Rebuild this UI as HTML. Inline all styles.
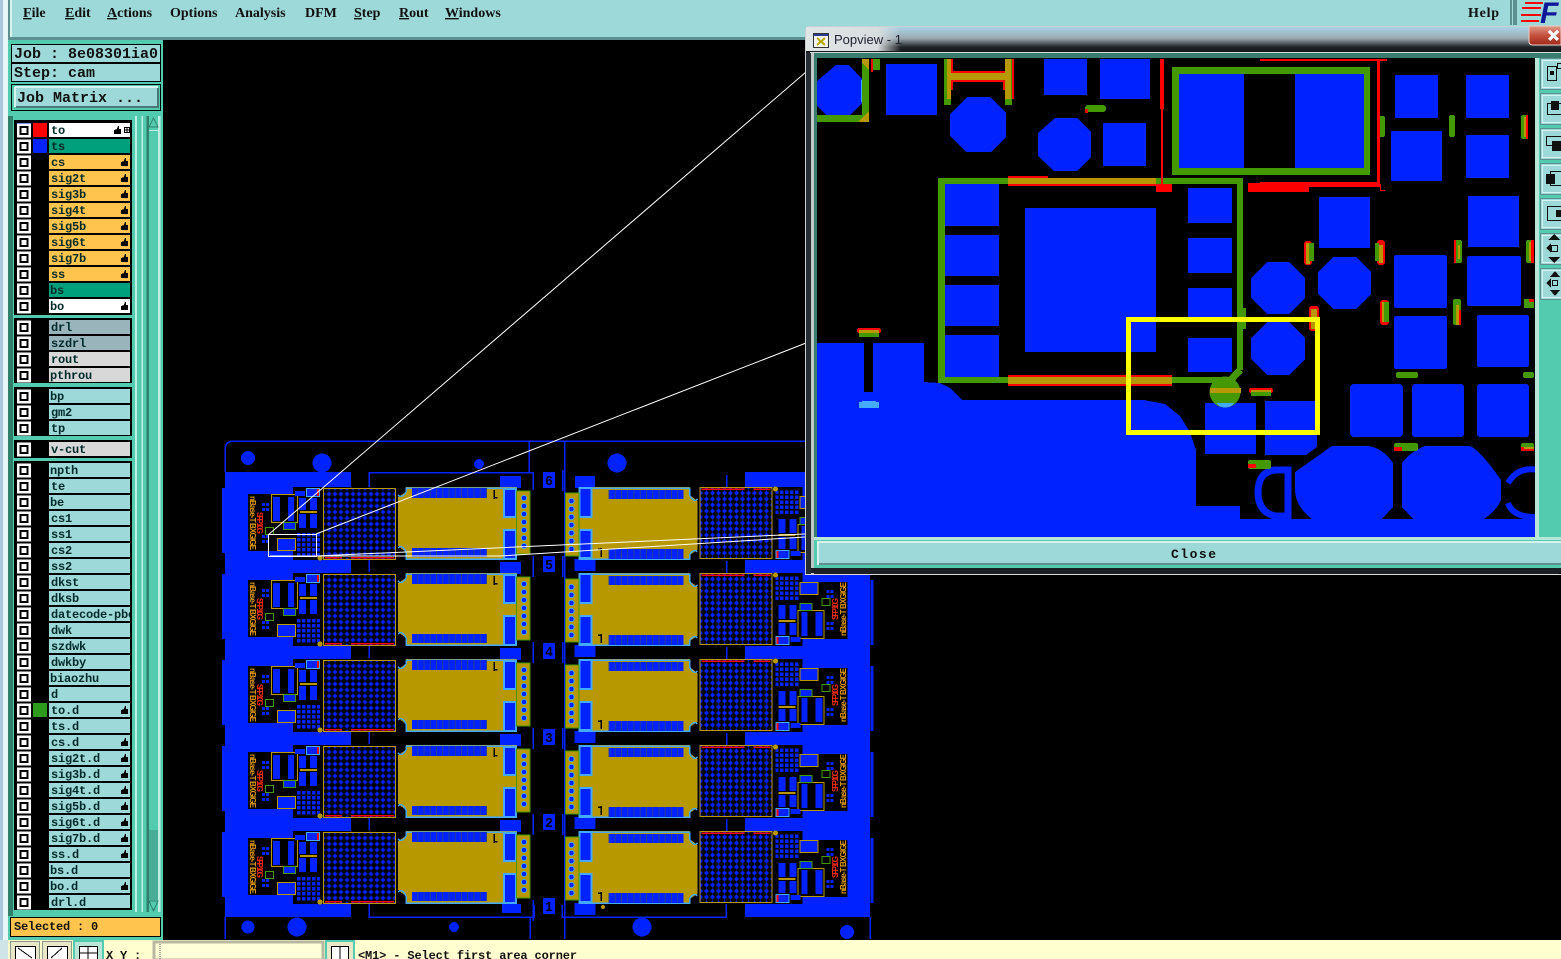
<!DOCTYPE html>
<html><head><meta charset="utf-8"><title>Popview</title>
<style>html,body{margin:0;padding:0;background:#000;overflow:hidden}svg{display:block}
.m{font:bold 14px "Liberation Serif",serif;fill:#111}
.l{font:bold 12px "Liberation Mono",monospace;fill:#002a2a;letter-spacing:-.2px}
.t{font:bold 15px "Liberation Mono",monospace;fill:#111}
</style></head><body>
<svg xmlns="http://www.w3.org/2000/svg" width="1561" height="959" viewBox="0 0 1561 959" shape-rendering="crispEdges">
<defs>
<pattern id="gp" x="326" y="491" width="6" height="6" patternUnits="userSpaceOnUse"><rect width="6" height="6" fill="#000"/><rect x="1.5" y="1.5" width="3" height="3" fill="#0022ff"/><rect x="2.5" y="0.5" width="1" height="5" fill="#0022ff"/><rect x="0.5" y="2.5" width="5" height="1" fill="#0022ff"/></pattern>
<pattern id="sq" x="297" y="538" width="5" height="5" patternUnits="userSpaceOnUse"><rect width="5" height="5" fill="#000"/><rect width="3.5" height="3.5" fill="#0022ff"/></pattern>
<pattern id="cp" x="412" y="0" width="6.25" height="10" patternUnits="userSpaceOnUse"><rect width="6.25" height="10" fill="#0022ff"/><rect x="5.2" width="1" height="10" fill="#27408f"/></pattern>
<g id="u">
<rect x="222" y="488" width="3" height="65" fill="#0022ff"/>
<rect x="248" y="494" width="45" height="57" fill="#000"/>
<rect x="293" y="487" width="105" height="73" fill="#000"/>
<rect x="500" y="476" width="21" height="12" fill="#0022ff"/>
<path d="M369 559V572M533 556V577" stroke="#0022ff" stroke-width="1.5" fill="none"/>
<rect x="323.5" y="488.5" width="72" height="71" fill="url(#gp)" stroke="#b89800"/>
<rect x="325" y="557" width="17" height="1.5" fill="#f00"/><rect x="351" y="557" width="43" height="1.5" fill="#f00"/>
<rect x="271.5" y="494.5" width="26" height="28" fill="#000" stroke="#b89800"/>
<rect x="273" y="497" width="7" height="24" fill="#0022ff"/><rect x="288" y="497" width="6" height="24" fill="#0022ff"/>
<rect x="299" y="498" width="7" height="12" fill="#0022ff"/><rect x="310" y="498" width="7" height="12" fill="#0022ff"/>
<rect x="300" y="511" width="17" height="2" fill="#b89800"/>
<rect x="299" y="514" width="7" height="14" fill="#0022ff"/><rect x="310" y="514" width="7" height="14" fill="#0022ff"/>
<rect x="306.5" y="488.5" width="13" height="8" fill="#0022ff" stroke="#44aaff"/><rect x="317" y="489" width="2" height="7" fill="#f00"/>
<rect x="295" y="491" width="10" height="5" fill="#0022ff"/>
<rect x="283.5" y="522.5" width="12" height="7" fill="#0022ff" stroke="#449900"/>
<rect x="265.5" y="527.5" width="8" height="7" fill="#000" stroke="#449900"/>
<rect x="262" y="503" width="3" height="3" fill="#0022ff"/><rect x="266" y="503" width="3" height="3" fill="#0022ff"/><rect x="262" y="508" width="3" height="3" fill="#0022ff"/><rect x="266" y="508" width="3" height="3" fill="#0022ff"/>
<rect x="262" y="535" width="3" height="3" fill="#0022ff"/><rect x="266" y="535" width="3" height="3" fill="#0022ff"/><rect x="262" y="540" width="3" height="3" fill="#0022ff"/><rect x="266" y="540" width="3" height="3" fill="#0022ff"/>
<rect x="277.5" y="538.5" width="18" height="12" fill="#0022ff" stroke="#b89800"/>
<rect x="297" y="533" width="23" height="25" fill="url(#sq)"/>
<circle cx="320" cy="558" r="2.5" fill="#b89800"/>
<path d="M406 487H517V560H406V552L398 546V497L406 492Z" fill="#b89800"/>
<path d="M398 495Q402 499 406 492V488H517M398 548Q402 544 406 552V559H517" stroke="#44aaff" stroke-width="1.5" fill="none"/>
<rect x="412" y="488" width="75" height="10" fill="url(#cp)"/>
<rect x="412" y="548" width="75" height="9" fill="url(#cp)"/>
<rect x="493.5" y="490" width="1.5" height="9" fill="#000"/><rect x="495" y="497" width="2.5" height="1.5" fill="#000"/>
<rect x="503" y="488" width="14" height="30" fill="#44aaff"/><rect x="505" y="490" width="10" height="26" fill="#0022ff"/>
<rect x="503" y="529" width="14" height="31" fill="#44aaff"/><rect x="505" y="531" width="10" height="27" fill="#0022ff"/>
<rect x="516.5" y="491" width="13.5" height="63" fill="#b89800" stroke="#449900"/>
<g fill="#0022ff" stroke="#44aaff" stroke-width=".7"><circle cx="524" cy="498" r="2.6"/><circle cx="524" cy="506" r="2.6"/><circle cx="524" cy="514" r="2.6"/><circle cx="524" cy="522" r="2.6"/><circle cx="524" cy="530" r="2.6"/><circle cx="524" cy="538" r="2.6"/><circle cx="524" cy="546" r="2.6"/></g>
</g>
<g id="cb"><rect x="17" y="-6.5" width="14" height="14" fill="#fff"/><rect x="19.5" y="-4" width="9" height="9" fill="#000"/><rect x="21.5" y="-2" width="5" height="5" fill="#fff"/></g>
<path id="h" d="M121 4V0L124 -1L125 -4L126 -4V-1L128 -1V4Z" fill="#000"/>
<clipPath id="cc"><rect x="817" y="58" width="718" height="479"/></clipPath>
<clipPath id="lc"><rect x="49" y="100" width="81" height="830"/></clipPath>
<linearGradient id="tb" x1="0" y1="0" x2="0" y2="1"><stop offset="0" stop-color="#a9d4e6"/><stop offset=".45" stop-color="#9aa9b0"/><stop offset=".8" stop-color="#202428"/><stop offset="1" stop-color="#14181a"/></linearGradient>
<linearGradient id="tl" x1="0" y1="0" x2="1" y2="0"><stop offset="0" stop-color="#e0e6e6"/><stop offset=".75" stop-color="#d8dee0"/><stop offset="1" stop-color="#d8dee0" stop-opacity="0"/></linearGradient>
<linearGradient id="cl" x1="0" y1="0" x2="0" y2="1"><stop offset="0" stop-color="#e09a8c"/><stop offset=".5" stop-color="#c4503c"/><stop offset="1" stop-color="#a0281c"/></linearGradient>
</defs>
<rect width="1561" height="959" fill="#000"/>

<!-- PCB panel -->
<rect x="225" y="472" width="126" height="445" fill="#0022ff"/>
<rect x="745" y="472" width="125" height="445" fill="#0022ff"/>
<rect x="575" y="476" width="20" height="12" fill="#0022ff"/>
<rect x="502" y="904" width="19" height="9" fill="#0022ff"/>
<rect x="575" y="904" width="20" height="9" fill="#0022ff"/>
<g fill="none" stroke="#0022ff" stroke-width="1.5">
<path d="M225 472V450Q225 441 234 441H806"/><path d="M564.5 441V939M529 441V472"/>
<path d="M369 487V472.5H533V490"/><path d="M369 903V917H534V905"/><path d="M726 903V917H562V905"/>
<path d="M225 917V939M530 917V939M870 917V939"/>
</g>
<g fill="#0022ff">
<circle cx="248" cy="458" r="7"/><circle cx="322" cy="463" r="9.5"/><circle cx="479" cy="464" r="5"/><circle cx="617" cy="463" r="9.5"/>
<circle cx="248" cy="927" r="6.5"/><circle cx="297" cy="927" r="9.5"/><circle cx="454" cy="927" r="5"/><circle cx="642" cy="927" r="9.5"/><circle cx="847" cy="932" r="7"/>
</g>
<use href="#u"/><use href="#u" y="86"/><use href="#u" y="172"/><use href="#u" y="258"/><use href="#u" y="344"/>
<g transform="translate(1095.5 1047) scale(-1 -1)"><use href="#u"/></g>
<g transform="translate(1095.5 1133) scale(-1 -1)"><use href="#u"/></g>
<g transform="translate(1095.5 1219) scale(-1 -1)"><use href="#u"/></g>
<g transform="translate(1095.5 1305) scale(-1 -1)"><use href="#u"/></g>
<g transform="translate(1095.5 1391) scale(-1 -1)"><use href="#u"/></g>
<circle cx="603" cy="907" r="2" fill="#b89800"/>
<g font-family="Liberation Sans, sans-serif" font-weight="bold" font-size="8" fill="#e09a10">
<text transform="translate(250 496) rotate(90)" textLength="54">nBase-T BXGIGE</text>
<text transform="translate(250 582) rotate(90)" textLength="54">nBase-T BXGIGE</text>
<text transform="translate(250 668) rotate(90)" textLength="54">nBase-T BXGIGE</text>
<text transform="translate(250 754) rotate(90)" textLength="54">nBase-T BXGIGE</text>
<text transform="translate(250 840) rotate(90)" textLength="54">nBase-T BXGIGE</text>
<text transform="translate(846 636) rotate(-90)" textLength="54">nBase-T BXGIGE</text>
<text transform="translate(846 722) rotate(-90)" textLength="54">nBase-T BXGIGE</text>
<text transform="translate(846 808) rotate(-90)" textLength="54">nBase-T BXGIGE</text>
<text transform="translate(846 894) rotate(-90)" textLength="54">nBase-T BXGIGE</text>
</g>
<g font-family="Liberation Sans, sans-serif" font-weight="bold" font-size="8" fill="#f02a10">
<text transform="translate(257 512) rotate(90)" textLength="22">SFP 10G</text>
<text transform="translate(257 598) rotate(90)" textLength="22">SFP 10G</text>
<text transform="translate(257 684) rotate(90)" textLength="22">SFP 10G</text>
<text transform="translate(257 770) rotate(90)" textLength="22">SFP 10G</text>
<text transform="translate(257 856) rotate(90)" textLength="22">SFP 10G</text>
<text transform="translate(838 620) rotate(-90)" textLength="22">SFP 10G</text>
<text transform="translate(838 706) rotate(-90)" textLength="22">SFP 10G</text>
<text transform="translate(838 792) rotate(-90)" textLength="22">SFP 10G</text>
<text transform="translate(838 878) rotate(-90)" textLength="22">SFP 10G</text>
</g>
<g fill="#0022ff"><rect x="543" y="472" width="12" height="16"/><rect x="543" y="556" width="12" height="16"/><rect x="543" y="643" width="12" height="16"/><rect x="543" y="729" width="12" height="16"/><rect x="543" y="814" width="12" height="16"/><rect x="543" y="898" width="12" height="16"/></g>
<g font-family="Liberation Sans, sans-serif" font-weight="bold" font-size="13" fill="#000" text-anchor="middle"><text x="549" y="485">6</text><text x="549" y="569">5</text><text x="549" y="656">4</text><text x="549" y="742">3</text><text x="549" y="827">2</text><text x="549" y="911">1</text></g>

<!-- zoom lines -->
<g stroke="#fff" stroke-width="1" fill="none" shape-rendering="auto">
<path d="M268 535L806 72"/><path d="M316 534L806 343"/>
<rect x="268.5" y="534.5" width="48" height="22"/>
<path d="M316 556L805 534M270 556H500L805 537"/>
</g>

<!-- left strip & panel -->
<rect x="0" y="0" width="3" height="959" fill="#a8c8dc"/><rect x="3" y="0" width="5" height="959" fill="#e8f6f8"/>
<rect x="8" y="39" width="155" height="901" fill="#52cbae"/>
<rect x="8" y="116" width="5" height="800" fill="#2f7f6b"/>
<!-- menu -->
<rect x="8" y="0" width="1553" height="40" fill="#5c8f8f"/>
<rect x="10" y="0" width="1551" height="37" fill="#9ed9d9"/><rect x="10" y="0" width="2" height="37" fill="#d8f2f0"/>
<text class="m" x="23" y="17"><tspan text-decoration="underline">F</tspan>ile</text>
<text class="m" x="65" y="17"><tspan text-decoration="underline">E</tspan>dit</text>
<text class="m" x="107" y="17"><tspan text-decoration="underline">A</tspan>ctions</text>
<text class="m" x="170" y="17">Options</text>
<text class="m" x="235" y="17">Analysis</text>
<text class="m" x="305" y="17">DFM</text>
<text class="m" x="354" y="17"><tspan text-decoration="underline">S</tspan>tep</text>
<text class="m" x="399" y="17"><tspan text-decoration="underline">R</tspan>out</text>
<text class="m" x="445" y="17"><tspan text-decoration="underline">W</tspan>indows</text>
<text class="m" x="1468" y="17" textLength="31">Help</text>
<rect x="1510" y="0" width="2" height="25" fill="#5c8f8f"/><rect x="1513" y="0" width="4" height="25" fill="#5c8f8f"/>
<g fill="#f00"><rect x="1525" y="2" width="18" height="2"/><rect x="1522" y="7" width="19" height="2"/><rect x="1521" y="14" width="20" height="2"/><rect x="1521" y="20" width="18" height="2"/></g>
<text x="1540" y="23" font-family="Liberation Sans, sans-serif" font-weight="bold" font-style="italic" font-size="30" fill="#10189a">F</text>

<!-- job -->
<g fill="#9ed9d9" stroke="#000"><rect x="11.5" y="44.5" width="149" height="18"/><rect x="11.5" y="63.5" width="149" height="18"/></g>
<rect x="11.5" y="84.5" width="149" height="26" fill="#52cbae" stroke="#000"/>
<rect x="15" y="87" width="143" height="20" fill="#9ed9d9"/><path d="M15 87H158M15 87V107" stroke="#d8f2f0" stroke-width="2"/><path d="M158 88V107H16" stroke="#4a7878" stroke-width="2" fill="none"/>
<text class="t" x="14" y="58" textLength="144">Job : 8e08301ia0</text>
<text class="t" x="14" y="77" textLength="81">Step: cam</text>
<text class="t" x="17" y="102" textLength="126">Job Matrix ...</text>

<!-- scrollbar -->
<rect x="135" y="116" width="2" height="796" fill="#bfeee4"/><rect x="141.7" y="116" width="1.5" height="796" fill="#bfeee4"/>
<rect x="146.7" y="116" width="2.3" height="796" fill="#2f7f6b"/><rect x="158" y="116" width="2.7" height="796" fill="#bfeee4"/>
<rect x="149" y="116" width="9" height="12" fill="#52cbae"/><path d="M153.5 118L149 127H158Z" fill="#52cbae" stroke="#2f7f6b"/>
<rect x="149" y="130" width="9" height="1" fill="#bfeee4"/>
<rect x="149" y="830" width="9" height="70" fill="#48ad96"/>
<path d="M153.5 911L149 901H158Z" fill="#52cbae" stroke="#2f7f6b"/>

<!-- list -->
<g fill="#000"><rect x="14" y="120" width="118" height="195"/><rect x="14" y="318" width="118" height="65"/><rect x="14" y="387" width="118" height="49"/><rect x="14" y="440" width="118" height="18"/><rect x="14" y="461" width="118" height="449"/></g>
<rect x="17" y="123" width="14" height="14" fill="#0022ff"/>
<rect x="33" y="123" width="14" height="14" fill="#f00"/><rect x="33" y="139" width="14" height="14" fill="#0022ff"/><rect x="33" y="703" width="14" height="14" fill="#2e9a1e"/>
<g fill="#fff"><rect x="49" y="123" width="81" height="14"/><rect x="49" y="299" width="81" height="14"/></g>
<g fill="#00a07c"><rect x="49" y="139" width="81" height="14"/><rect x="49" y="283" width="81" height="14"/></g>
<g fill="#ffc44d"><rect x="49" y="155" width="81" height="14"/><rect x="49" y="171" width="81" height="14"/><rect x="49" y="187" width="81" height="14"/><rect x="49" y="203" width="81" height="14"/><rect x="49" y="219" width="81" height="14"/><rect x="49" y="235" width="81" height="14"/><rect x="49" y="251" width="81" height="14"/><rect x="49" y="267" width="81" height="14"/></g>
<g fill="#9ab4bc"><rect x="49" y="320" width="81" height="14"/><rect x="49" y="336" width="81" height="14"/></g>
<g fill="#d8d8d8"><rect x="49" y="352" width="81" height="14"/><rect x="49" y="368" width="81" height="14"/><rect x="49" y="442" width="81" height="14"/></g>
<g fill="#9ed9d9"><rect x="49" y="389" width="81" height="14"/><rect x="49" y="405" width="81" height="14"/><rect x="49" y="421" width="81" height="14"/>
<rect x="49" y="463" width="81" height="445"/></g>
<g fill="#000"><rect x="49" y="477" width="81" height="2"/><rect x="49" y="493" width="81" height="2"/><rect x="49" y="509" width="81" height="2"/><rect x="49" y="525" width="81" height="2"/><rect x="49" y="541" width="81" height="2"/><rect x="49" y="557" width="81" height="2"/><rect x="49" y="573" width="81" height="2"/><rect x="49" y="589" width="81" height="2"/><rect x="49" y="605" width="81" height="2"/><rect x="49" y="621" width="81" height="2"/><rect x="49" y="637" width="81" height="2"/><rect x="49" y="653" width="81" height="2"/><rect x="49" y="669" width="81" height="2"/><rect x="49" y="685" width="81" height="2"/><rect x="49" y="701" width="81" height="2"/><rect x="49" y="717" width="81" height="2"/><rect x="49" y="733" width="81" height="2"/><rect x="49" y="749" width="81" height="2"/><rect x="49" y="765" width="81" height="2"/><rect x="49" y="781" width="81" height="2"/><rect x="49" y="797" width="81" height="2"/><rect x="49" y="813" width="81" height="2"/><rect x="49" y="829" width="81" height="2"/><rect x="49" y="845" width="81" height="2"/><rect x="49" y="861" width="81" height="2"/><rect x="49" y="877" width="81" height="2"/><rect x="49" y="893" width="81" height="2"/></g>
<g>
<use href="#cb" y="130"/><use href="#cb" y="146"/><use href="#cb" y="162"/><use href="#cb" y="178"/><use href="#cb" y="194"/><use href="#cb" y="210"/><use href="#cb" y="226"/><use href="#cb" y="242"/><use href="#cb" y="258"/><use href="#cb" y="274"/><use href="#cb" y="290"/><use href="#cb" y="306"/>
<use href="#cb" y="327"/><use href="#cb" y="343"/><use href="#cb" y="359"/><use href="#cb" y="375"/><use href="#cb" y="396"/><use href="#cb" y="412"/><use href="#cb" y="428"/><use href="#cb" y="449"/>
<use href="#cb" y="470"/><use href="#cb" y="486"/><use href="#cb" y="502"/><use href="#cb" y="518"/><use href="#cb" y="534"/><use href="#cb" y="550"/><use href="#cb" y="566"/><use href="#cb" y="582"/><use href="#cb" y="598"/><use href="#cb" y="614"/><use href="#cb" y="630"/><use href="#cb" y="646"/><use href="#cb" y="662"/><use href="#cb" y="678"/><use href="#cb" y="694"/><use href="#cb" y="710"/><use href="#cb" y="726"/><use href="#cb" y="742"/><use href="#cb" y="758"/><use href="#cb" y="774"/><use href="#cb" y="790"/><use href="#cb" y="806"/><use href="#cb" y="822"/><use href="#cb" y="838"/><use href="#cb" y="854"/><use href="#cb" y="870"/><use href="#cb" y="886"/><use href="#cb" y="902"/>
<use href="#h" x="-7" y="130"/><use href="#h" y="162"/><use href="#h" y="178"/><use href="#h" y="194"/><use href="#h" y="210"/><use href="#h" y="226"/><use href="#h" y="242"/><use href="#h" y="258"/><use href="#h" y="274"/><use href="#h" y="306"/>
<use href="#h" y="710"/><use href="#h" y="742"/><use href="#h" y="758"/><use href="#h" y="774"/><use href="#h" y="790"/><use href="#h" y="806"/><use href="#h" y="822"/><use href="#h" y="838"/><use href="#h" y="854"/><use href="#h" y="886"/>
</g>
<rect x="124.5" y="127.5" width="5" height="5" fill="none" stroke="#000"/><path d="M127 127V132M124 130H129" stroke="#000"/>
<g clip-path="url(#lc)">
<text class="l" x="51" y="134">to</text><text class="l" x="51" y="150">ts</text><text class="l" x="51" y="166">cs</text><text class="l" x="51" y="182">sig2t</text><text class="l" x="51" y="198">sig3b</text><text class="l" x="51" y="214">sig4t</text><text class="l" x="51" y="230">sig5b</text><text class="l" x="51" y="246">sig6t</text><text class="l" x="51" y="262">sig7b</text><text class="l" x="51" y="278">ss</text><text class="l" x="50" y="294">bs</text><text class="l" x="50" y="310">bo</text>
<text class="l" x="51" y="331">drl</text><text class="l" x="51" y="347">szdrl</text><text class="l" x="51" y="363">rout</text><text class="l" x="50" y="379">pthrou</text>
<text class="l" x="50" y="400">bp</text><text class="l" x="51" y="416">gm2</text><text class="l" x="51" y="432">tp</text><text class="l" x="51" y="453">v-cut</text>
<text class="l" x="50" y="474">npth</text><text class="l" x="51" y="490">te</text><text class="l" x="50" y="506">be</text><text class="l" x="51" y="522">cs1</text><text class="l" x="51" y="538">ss1</text><text class="l" x="51" y="554">cs2</text><text class="l" x="51" y="570">ss2</text><text class="l" x="51" y="586">dkst</text><text class="l" x="51" y="602">dksb</text><text class="l" x="51" y="618">datecode-pbe</text><text class="l" x="51" y="634">dwk</text><text class="l" x="51" y="650">szdwk</text><text class="l" x="51" y="666">dwkby</text><text class="l" x="50" y="682">biaozhu</text><text class="l" x="51" y="698">d</text><text class="l" x="51" y="714">to.d</text><text class="l" x="51" y="730">ts.d</text><text class="l" x="51" y="746">cs.d</text><text class="l" x="51" y="762">sig2t.d</text><text class="l" x="51" y="778">sig3b.d</text><text class="l" x="51" y="794">sig4t.d</text><text class="l" x="51" y="810">sig5b.d</text><text class="l" x="51" y="826">sig6t.d</text><text class="l" x="51" y="842">sig7b.d</text><text class="l" x="51" y="858">ss.d</text><text class="l" x="50" y="874">bs.d</text><text class="l" x="50" y="890">bo.d</text><text class="l" x="51" y="906">drl.d</text>
</g>
<rect x="10.5" y="917.5" width="150" height="19" fill="#ffc44d" stroke="#000"/>
<text class="l" x="14" y="930" style="fill:#111">Selected : 0</text>

<!-- bottom bar -->
<rect x="0" y="940" width="1561" height="19" fill="#ffffd0"/><rect x="0" y="940" width="8" height="19" fill="#cfe4e6"/>
<g fill="#e8e8c8" stroke="#8c9a8c"><rect x="10.5" y="941.5" width="29" height="20"/><rect x="42.5" y="941.5" width="29" height="20"/></g>
<rect x="74" y="941" width="29" height="20" fill="#b9e6d8" stroke="#52cbae" stroke-width="2"/>
<g fill="#fff" stroke="#000"><rect x="15.5" y="946.5" width="20" height="14"/><rect x="47.5" y="946.5" width="20" height="14"/><rect x="79.5" y="946.5" width="18" height="14"/></g>
<path d="M18 948L32 958M62 948L51 958M88 947V959M80 953H97" stroke="#000" fill="none"/>
<text class="l" x="106" y="959" style="fill:#111">X Y :</text>
<rect x="154" y="942" width="169" height="18" fill="#ffffd8" stroke="#b8b8a0" stroke-width="3"/>
<path d="M160 944V959" stroke="#555" stroke-dasharray="1 1"/>
<rect x="326" y="941" width="28" height="20" fill="#e8e8c8" stroke="#52cbae" stroke-width="2"/>
<rect x="331.5" y="946.5" width="17" height="14" fill="#fff" stroke="#000"/><path d="M340 947V959" stroke="#000"/>
<text class="l" x="358" y="959" style="fill:#111;letter-spacing:-.14px">&lt;M1&gt; - Select first area corner</text>

<!-- popup frame -->
<rect x="805" y="26" width="756" height="549" rx="5" fill="#1c2024"/>
<path d="M805.5 575V31Q805.5 26.5 810 26.5H1561" stroke="#c8d0d4" fill="none"/>
<rect x="806" y="27" width="755" height="25" fill="url(#tb)"/>
<rect x="806" y="27" width="95" height="24" fill="url(#tl)"/>
<rect x="810" y="52" width="751" height="1" fill="#d0d8d8"/>
<rect x="811" y="53" width="750" height="5" fill="#3a7d6e"/>
<rect x="811" y="53" width="3" height="522" fill="#c0c8c8"/><rect x="814" y="56" width="3" height="484" fill="#3a7d6e"/>
<rect x="806" y="53" width="5" height="522" fill="#252c32"/>
<path d="M1529 26H1561V45H1533Q1529 45 1529 41Z" fill="url(#cl)" stroke="#e8d0c8"/>
<path d="M1549 31L1558 40M1558 31L1549 40" stroke="#fff" stroke-width="3"/>
<rect x="813.5" y="33.5" width="15" height="14" fill="#f4f4f0" stroke="#333"/><rect x="814" y="34" width="14" height="2" fill="#2a3a90"/>
<path d="M817 38L825 45M825 38L817 45" stroke="#b8a800" stroke-width="2"/>
<text x="834" y="44" font-family="Liberation Sans, sans-serif" font-size="13" fill="#223" text-rendering="geometricPrecision">Popview - 1</text>
<!-- sidebar -->
<rect x="1535" y="58" width="4" height="480" fill="#b9e6d8"/>
<rect x="1539" y="58" width="22" height="480" fill="#52cbae"/>
<g fill="#9ed9d9" stroke="#5c8f8f"><rect x="1540.5" y="58.5" width="21" height="31"/><rect x="1540.5" y="93.5" width="21" height="31"/><rect x="1540.5" y="128.5" width="21" height="31"/><rect x="1540.5" y="163.5" width="21" height="31"/><rect x="1540.5" y="198.5" width="21" height="31"/><rect x="1540.5" y="233.5" width="21" height="31"/><rect x="1540.5" y="268.5" width="21" height="31"/></g>
<g fill="none" stroke="#d8f2f0"><rect x="1542.5" y="60.5" width="19" height="27"/><rect x="1542.5" y="95.5" width="19" height="27"/><rect x="1542.5" y="130.5" width="19" height="27"/><rect x="1542.5" y="165.5" width="19" height="27"/><rect x="1542.5" y="200.5" width="19" height="27"/><rect x="1542.5" y="235.5" width="19" height="27"/><rect x="1542.5" y="270.5" width="19" height="27"/></g>
<g fill="none" stroke="#111"><rect x="1547.5" y="66.5" width="9" height="14"/><rect x="1557.5" y="63.5" width="4" height="5"/><rect x="1547.5" y="103.5" width="14" height="11"/><rect x="1546.5" y="136.5" width="15" height="9"/><rect x="1550.5" y="171.5" width="11" height="14"/><rect x="1547.5" y="206.5" width="14" height="14"/><rect x="1551.5" y="245.5" width="6" height="6"/><rect x="1552.5" y="280.5" width="5" height="5"/></g>
<g fill="#111"><rect x="1550" y="71" width="4" height="4"/><rect x="1551" y="101" width="8" height="9"/><rect x="1552" y="141" width="9" height="10"/><rect x="1546" y="174" width="9" height="10"/><rect x="1556" y="210" width="5" height="7"/><path d="M1546 248L1551 243V253ZM1554 234L1560 240H1548ZM1554 263L1560 257H1548Z"/><path d="M1546 283L1551 278V288ZM1555 271L1560 277H1550ZM1555 296L1560 290H1550Z"/></g>
<!-- close bar -->
<rect x="814" y="537" width="747" height="3" fill="#b9e6d8"/>
<rect x="814" y="540" width="747" height="28" fill="#52cbae"/>
<rect x="817" y="541" width="744" height="24" fill="#9ed9d9"/><rect x="817" y="541" width="744" height="2" fill="#d8f2f0"/><rect x="817" y="563" width="744" height="2" fill="#5c8f8f"/><rect x="817" y="541" width="2" height="24" fill="#d8f2f0"/>
<text class="t" style="font-size:13px" x="1171" y="558" textLength="45">Close</text>
<rect x="811" y="568" width="750" height="5" fill="#1c2024"/><rect x="806" y="574" width="755" height="1" fill="#d8dcdc"/>

<!-- popview canvas -->
<rect x="817" y="58" width="718" height="479" fill="#000"/>
<g clip-path="url(#cc)">
<g fill="#0022ff">
<polygon points="817,343 864,343 864,392 873,392 873,343 924,343 924,382 940,383 950,388 962,400 1144,400 1165,404 1180,416 1190,432 1196,450 1196,506 1240,506 1240,519 1540,519 1540,540 817,540"/>
<polygon points="817,81 836,65 849,65 863,80 863,102 849,116 827,116 817,106"/>
<rect x="886" y="64" width="51" height="51"/>
<polygon points="950,114 967,97 990,97 1006,113 1006,137 991,152 966,152 950,136"/>
<rect x="1044" y="59" width="43" height="36"/><rect x="1100" y="59" width="50" height="40"/>
<polygon points="1038,133 1055,118 1077,118 1091,132 1091,157 1077,171 1054,171 1038,156"/>
<rect x="1103" y="123" width="43" height="43"/>
<rect x="945" y="183" width="54" height="43"/><rect x="945" y="235" width="54" height="41"/><rect x="945" y="285" width="54" height="41"/><rect x="945" y="335" width="54" height="42"/>
<rect x="1025" y="208" width="131" height="144"/>
<rect x="1188" y="188" width="44" height="35"/><rect x="1188" y="238" width="44" height="35"/><rect x="1188" y="288" width="44" height="34"/><rect x="1188" y="338" width="44" height="34"/>
<rect x="1395" y="75" width="43" height="43"/><rect x="1466" y="75" width="43" height="43"/><rect x="1391" y="131" width="51" height="50"/><rect x="1466" y="135" width="43" height="43"/>
<rect x="1319" y="197" width="51" height="51"/><rect x="1468" y="196" width="51" height="51"/>
<rect x="1394" y="255" width="53" height="53" rx="2"/><rect x="1467" y="256" width="54" height="50" rx="2"/>
<polygon points="1251,278 1267,262 1289,262 1305,278 1305,298 1289,314 1267,314 1251,298"/>
<polygon points="1318,272 1333,257 1356,257 1371,272 1371,294 1356,309 1333,309 1318,294"/>
<polygon points="1251,338 1267,322 1289,322 1305,338 1305,359 1289,375 1267,375 1251,359"/>
<rect x="1394" y="316" width="53" height="53" rx="2"/><rect x="1477" y="315" width="52" height="52" rx="2"/>
<rect x="1350" y="384" width="53" height="53" rx="4"/><rect x="1412" y="384" width="52" height="53" rx="3"/><rect x="1477" y="384" width="52" height="53" rx="3"/>
<rect x="1205" y="403" width="51" height="51"/><polygon points="1265,401 1317,401 1317,447 1306,455 1265,455"/>
<path d="M1332 446H1368Q1383 448 1393 463V507L1382 519H1312Q1295 506 1295 490V472Z"/>
<path d="M1425 446H1470Q1480 450 1501 480V500Q1497 510 1484 519H1413L1402 507V463Q1410 452 1425 446Z"/>
<rect x="1179" y="74" width="65" height="94"/><rect x="1295" y="74" width="69" height="94"/>
</g>
<g fill="none" stroke="#0022ff" stroke-width="7" shape-rendering="auto">
<path d="M1288 519V470H1275Q1258 472 1258 492Q1258 512 1275 516H1288"/>
<path d="M1538 470Q1518 466 1508 483M1508 503Q1513 518 1538 517" stroke-width="6"/>
</g>
<g fill="#44aaff">
<rect x="943" y="183" width="2" height="43"/><rect x="943" y="235" width="2" height="41"/><rect x="943" y="285" width="2" height="41"/><rect x="943" y="335" width="2" height="43"/><rect x="945" y="183" width="54" height="1"/><rect x="945" y="377" width="54" height="1"/>
<rect x="1295" y="72" width="71" height="2"/><rect x="1295" y="168" width="71" height="2"/><rect x="1364" y="72" width="2" height="98"/>
<rect x="861" y="80" width="2" height="22"/><rect x="826" y="115" width="24" height="1"/>
<rect x="859" y="402" width="20" height="6"/><rect x="862" y="401" width="14" height="1"/>
</g>
<g fill="#449900">
<rect x="862" y="59" width="7" height="63"/><rect x="817" y="115" width="52" height="7"/>
<rect x="873" y="59" width="7" height="11"/>
<rect x="944" y="59" width="7" height="46"/><rect x="1005" y="59" width="7" height="46"/>
<rect x="1085" y="105" width="21" height="7" rx="3"/>
<rect x="938" y="178" width="305" height="6"/><rect x="938" y="178" width="7" height="205"/><rect x="938" y="377" width="288" height="6"/>
<rect x="1237" y="178" width="6" height="192"/><rect x="1237" y="308" width="9" height="21"/>
<polygon points="1237,368 1243,372 1230,386 1224,382"/>
<rect x="1172" y="67" width="198" height="7"/><rect x="1172" y="168" width="198" height="7"/><rect x="1172" y="67" width="7" height="108"/><rect x="1364" y="67" width="6" height="108"/>
<rect x="1378" y="116" width="7" height="21" rx="2"/>
<rect x="1449" y="115" width="6" height="22" rx="2"/>
</g>
<circle cx="1225" cy="392" r="15.5" fill="#449900" shape-rendering="auto"/>
<path d="M1216 403H1234L1231 406Q1225 409 1219 406Z" fill="#44aaff"/>
<rect x="1210" y="388" width="31" height="5" fill="#b89800"/>
<g fill="#f00">
<rect x="1160" y="59" width="4" height="50"/><rect x="1161" y="109" width="2" height="75"/>
<rect x="1156" y="184" width="16" height="8"/><rect x="1248" y="183" width="61" height="9"/>
<rect x="1260" y="59" width="127" height="2"/><rect x="1377" y="59" width="3" height="125"/><rect x="1260" y="182" width="120" height="5"/>
<rect x="1380" y="184" width="1" height="7"/><rect x="1380" y="190" width="5" height="1"/>
<rect x="1008" y="176" width="40" height="2"/><rect x="1008" y="184" width="148" height="2"/>
<rect x="1008" y="375" width="164" height="2"/><rect x="1008" y="384" width="164" height="2"/>
<rect x="951" y="71" width="55" height="2"/><rect x="951" y="80" width="55" height="2"/><rect x="951" y="59" width="2" height="12"/><rect x="951" y="80" width="2" height="10"/><rect x="1003" y="80" width="2" height="10"/><rect x="1012" y="59" width="2" height="40"/>
<rect x="871" y="59" width="2" height="13"/>
<rect x="1085" y="109" width="3" height="4"/>
</g>
<g fill="#b89800">
<rect x="1008" y="178" width="148" height="6"/><rect x="1008" y="377" width="164" height="7"/>
<rect x="951" y="73" width="54" height="7"/><rect x="947" y="59" width="4" height="40"/><rect x="1005" y="59" width="6" height="40"/>
<polygon points="862,59 869,59 869,70 862,63"/><polygon points="869,111 869,122 858,122"/>
</g>
<g>
<rect x="857" y="328" width="24" height="5" fill="#f00" rx="2"/><rect x="859" y="330" width="20" height="3" fill="#b89800"/><rect x="859" y="333" width="20" height="4" fill="#449900"/>
<rect x="1249" y="388" width="24" height="5" fill="#f00" rx="2"/><rect x="1251" y="390" width="20" height="2" fill="#b89800"/><rect x="1251" y="392" width="20" height="4" fill="#449900"/>
<rect x="1248" y="460" width="23" height="9" fill="#449900" rx="2"/><rect x="1248" y="464" width="8" height="4" fill="#f00"/>
<rect x="1304" y="241" width="8" height="24" fill="#f00" rx="3"/><rect x="1306" y="243" width="4" height="21" fill="#b89800"/><rect x="1309" y="243" width="5" height="18" fill="#449900"/>
<rect x="1377" y="240" width="8" height="25" fill="#f00" rx="3"/><rect x="1375" y="243" width="4" height="18" fill="#449900"/><rect x="1379" y="245" width="4" height="18" fill="#b89800"/>
<rect x="1455" y="240" width="7" height="23" fill="#449900" rx="2"/><rect x="1458" y="245" width="2" height="14" fill="#b89800"/><rect x="1454" y="240" width="2" height="23" fill="#f00"/>
<rect x="1526" y="240" width="8" height="23" fill="#449900" rx="2"/><rect x="1531" y="240" width="3" height="23" fill="#f00"/><rect x="1529" y="242" width="2" height="19" fill="#b89800"/>
<rect x="1521" y="115" width="7" height="24" fill="#449900" rx="2"/><rect x="1526" y="115" width="2" height="24" fill="#f00"/><rect x="1524" y="117" width="2" height="20" fill="#b89800"/>
<rect x="1309" y="306" width="10" height="25" fill="#f00" rx="3"/><rect x="1311" y="309" width="6" height="20" fill="#b89800"/>
<rect x="1380" y="300" width="9" height="25" fill="#f00" rx="3"/><rect x="1382" y="302" width="2" height="20" fill="#b89800"/><rect x="1384" y="302" width="5" height="20" fill="#449900"/>
<rect x="1453" y="299" width="8" height="26" fill="#449900" rx="2"/><rect x="1459" y="310" width="2" height="15" fill="#f00"/><rect x="1456" y="305" width="3" height="20" fill="#b89800"/>
<rect x="1524" y="299" width="10" height="9" fill="#449900"/><rect x="1529" y="299" width="5" height="3" fill="#f00"/>
<rect x="1396" y="372" width="22" height="6" fill="#449900" rx="2"/><rect x="1523" y="372" width="11" height="6" fill="#449900" rx="2"/>
<rect x="1394" y="443" width="24" height="8" fill="#449900" rx="2"/><rect x="1394" y="447" width="8" height="4" fill="#f00"/>
<rect x="1521" y="443" width="13" height="8" fill="#449900" rx="2"/><rect x="1521" y="447" width="13" height="4" fill="#f00"/><rect x="1524" y="447" width="10" height="2" fill="#b89800"/>
</g>
<rect x="1128.5" y="319.5" width="189" height="113" fill="none" stroke="#ffff00" stroke-width="5"/>
</g>
</svg>
</body></html>
